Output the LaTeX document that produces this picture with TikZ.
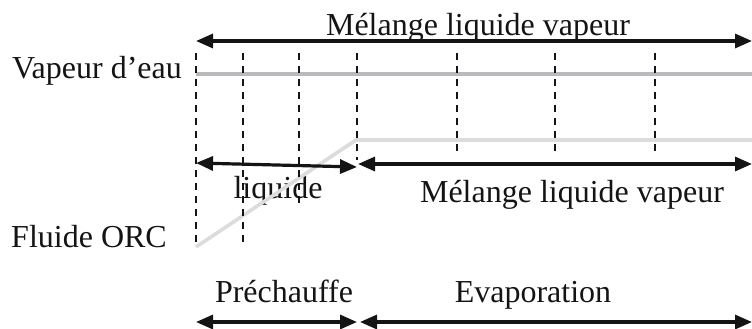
\documentclass[tikz,border=0pt]{standalone}
\usepackage{fontspec}
\setmainfont{Liberation Serif}
\usetikzlibrary{arrows.meta}
\begin{document}
\begin{tikzpicture}[x=1pt,y=-1pt,
  lbl/.style={anchor=base,inner sep=0pt,font=\fontsize{32}{38}\selectfont,text=black!92},
  dim/.style={line width=3.2pt,black!92,{Triangle[length=17pt,width=14pt]}-{Triangle[length=17pt,width=14pt]}},
  guide/.style={line width=2pt,black!92,dash pattern=on 7pt off 6pt},
  vap/.style={line width=3.6pt,color={rgb,255:red,185;green,185;blue,190}},
  orc/.style={line width=3.6pt,color={rgb,255:red,220;green,220;blue,220}}]
\useasboundingbox (0,0) rectangle (752,329);
% texts
\node[lbl] (tmel) at (478,36) {Mélange liquide vapeur};
\node[lbl] (tvap) at (97,78) {Vapeur d’eau};
\node[lbl] (torc) at (89,247) {Fluide ORC};
\node[lbl] (tliq) at (278,198) {liquide};
\node[lbl] (tmel2) at (572,202) {Mélange liquide vapeur};
\node[lbl] (tpre) at (284,302) {Préchauffe};
\node[lbl] (tevap) at (533,302) {Evaporation};
% coordinates
\coordinate (v0) at (196,74); \coordinate (v1) at (752,74);
\coordinate (o0) at (196,247); \coordinate (o1) at (356,140); \coordinate (o2) at (752,140);
\foreach \n/\x/\yb in {1/196/247,2/243/242,3/299/208,4/357/160,5/457/157,6/555/157,7/655/157}{
  \coordinate (g\n t) at (\x,53); \coordinate (g\n b) at (\x,\yb);
}
\coordinate (a0) at (196,41); \coordinate (a1) at (752,41);
\coordinate (m0) at (196,163); \coordinate (m1) at (357,167);
\coordinate (m2) at (358,164); \coordinate (m3) at (752,164);
\coordinate (b0) at (196,322); \coordinate (b1) at (357,322);
\coordinate (b2) at (360,322); \coordinate (b3) at (752,322);
% lines
\draw[vap] (v0) -- (v1);
\draw[orc] (o0) -- (o1) -- (o2);
\foreach \n in {1,...,7}{\draw[guide] (g\n t) -- (g\n b);}
\draw[dim] (a0) -- (a1);
\draw[dim] (m0) -- (m1);
\draw[dim] (m2) -- (m3);
\draw[dim] (b0) -- (b1);
\draw[dim] (b2) -- (b3);
\end{tikzpicture}
\end{document}
